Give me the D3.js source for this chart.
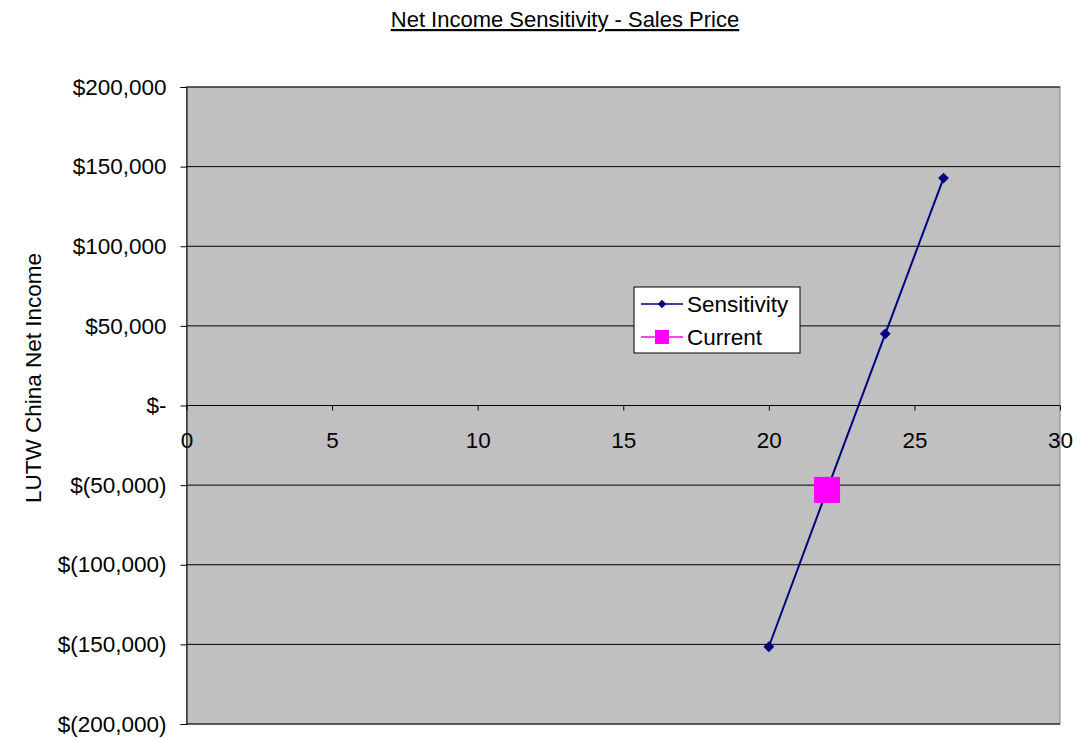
<!DOCTYPE html>
<html>
<head>
<meta charset="utf-8">
<script src="https://cdn.jsdelivr.net/npm/d3@7"></script>
<style>
  html, body { margin: 0; padding: 0; background: #fff; }
  svg { display: block; font-family: Arial, "Liberation Sans", sans-serif; }
</style>
</head>
<body>
<div id="chart"></div>
<script>
// net income sensitivity to sales price
var prices = [20, 22, 24, 26];
var netIncome = [-151500, -53000, 45000, 142800];
var currentPrice = [22];
var currentIncome = [-53000];
var xTicks = [0, 5, 10, 15, 20, 25, 30];
var yTicks = [200000, 150000, 100000, 50000, 0, -50000, -100000, -150000, -200000];
var seriesNames = ["Sensitivity", "Current"];

(function () {
  var W = 1077, H = 738;
  var m = { t: 87, r: 17, b: 14, l: 186.5 };
  var iw = W - m.l - m.r, ih = H - m.t - m.b;
  var NAVY = "#000080", MAGENTA = "#ff00ff", PLOT = "#c0c0c0";
  var FS = 22.5;

  var x = d3.scaleLinear().domain([0, 30]).range([0, iw]);
  var y = d3.scaleLinear().domain([-200000, 200000]).range([ih, 0]);
  var money = function (v) {
    if (v === 0) return "$-";
    var s = d3.format(",")(Math.abs(v));
    return v < 0 ? "$(" + s + ")" : "$" + s;
  };

  var svg = d3.select("#chart").append("svg").attr("width", W).attr("height", H);

  // title (underlined)
  svg.append("text").attr("x", 565).attr("y", 27).attr("text-anchor", "middle")
    .attr("font-size", 22).attr("text-decoration", "underline").attr("fill", "#000")
    .text("Net Income Sensitivity - Sales Price");

  // y axis title
  svg.append("text").attr("transform", "translate(41," + 378 + ") rotate(-90)")
    .attr("text-anchor", "middle").attr("font-size", FS).attr("fill", "#000")
    .text("LUTW China Net Income");

  var g = svg.append("g").attr("transform", "translate(" + m.l + "," + m.t + ")");

  g.append("rect").attr("width", iw).attr("height", ih).attr("fill", PLOT)
    .attr("stroke", "#808080").attr("stroke-width", 1);

  // gridlines
  g.selectAll(".grid").data(yTicks).enter().append("line")
    .attr("x1", 0).attr("x2", iw).attr("y1", function (d) { return y(d); }).attr("y2", function (d) { return y(d); })
    .attr("stroke", "#000").attr("stroke-width", 1);

  // y axis
  var ya = g.append("g").call(d3.axisLeft(y).tickValues(yTicks).tickFormat(money).tickSize(6).tickPadding(14));
  ya.select(".domain").attr("stroke", "#000");
  ya.selectAll("text").attr("font-size", FS).attr("fill", "#000").attr("font-family", "Arial, 'Liberation Sans', sans-serif");

  // x axis crossing at zero
  var xa = g.append("g").attr("transform", "translate(0," + y(0) + ")")
    .call(d3.axisBottom(x).tickValues(xTicks).tickSize(5).tickPadding(22));
  xa.select(".domain").remove();
  xa.selectAll("text").attr("font-size", FS).attr("fill", "#000").attr("font-family", "Arial, 'Liberation Sans', sans-serif");
  g.append("line").attr("x1", 0).attr("x2", iw).attr("y1", y(0)).attr("y2", y(0)).attr("stroke", "#000");

  // sensitivity line
  var pts = prices.map(function (p, i) { return [p, netIncome[i]]; });
  var line = d3.line().x(function (d) { return x(d[0]); }).y(function (d) { return y(d[1]); });
  g.append("path").attr("d", line(pts)).attr("fill", "none").attr("stroke", NAVY).attr("stroke-width", 2);
  var diamond = d3.symbol().type(d3.symbolSquare).size(44);
  g.selectAll(".dia").data(pts).enter().append("path")
    .attr("d", diamond)
    .attr("transform", function (d) { return "translate(" + x(d[0]) + "," + y(d[1]) + ") rotate(45)"; })
    .attr("fill", NAVY).attr("stroke", NAVY);

  // current point
  currentPrice.forEach(function (p, i) {
    g.append("rect").attr("x", x(p) - 13).attr("y", y(currentIncome[i]) - 13)
      .attr("width", 26).attr("height", 26).attr("fill", MAGENTA);
  });

  // legend
  var lg = svg.append("g").attr("transform", "translate(634,287)");
  lg.append("rect").attr("width", 166).attr("height", 66).attr("fill", "#fff").attr("stroke", "#000");
  seriesNames.forEach(function (name, i) {
    var cy = 17 + i * 33, col = i === 0 ? NAVY : MAGENTA;
    lg.append("line").attr("x1", 7).attr("x2", 49).attr("y1", cy).attr("y2", cy).attr("stroke", col).attr("stroke-width", 1.5);
    if (i === 0) {
      lg.append("path").attr("d", d3.symbol().type(d3.symbolSquare).size(36))
        .attr("transform", "translate(28," + cy + ") rotate(45)").attr("fill", col);
    } else {
      lg.append("rect").attr("x", 21).attr("y", cy - 7).attr("width", 14).attr("height", 14).attr("fill", col);
    }
    lg.append("text").attr("x", 53).attr("y", cy + 8).attr("font-size", FS).attr("fill", "#000").text(name);
  });
})();
</script>
</body>
</html>
